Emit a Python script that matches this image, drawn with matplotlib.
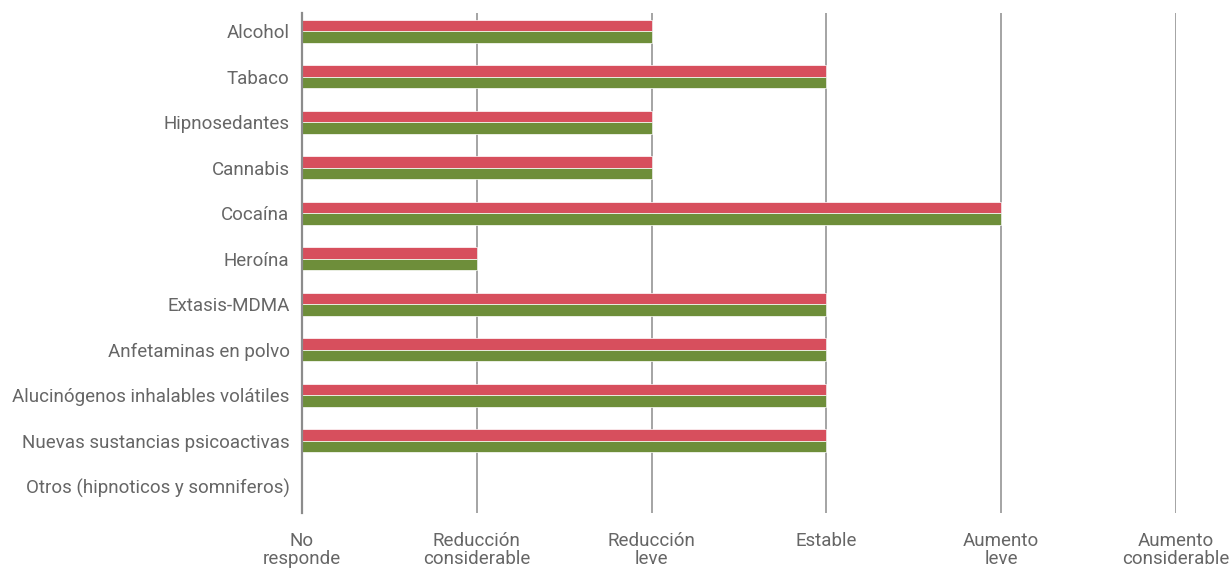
import numpy as np
import matplotlib.pyplot as plt

categories = ["Alcohol", "Tabaco", "Hipnosedantes", "Cannabis", "Cocaína", "Heroína",
              "Extasis-MDMA", "Anfetaminas en polvo",
              "Alucinógenos inhalables volátiles", "Nuevas sustancias psicoactivas",
              "Otros (hipnoticos y somniferos)"]
serie_roja = [2, 3, 2, 2, 4, 1, 3, 3, 3, 3, 0]
serie_verde = [2, 3, 2, 2, 4, 1, 3, 3, 3, 3, 0]
x_labels = ["No\nresponde", "Reducción\nconsiderable", "Reducción\nleve",
            "Estable", "Aumento\nleve", "Aumento\nconsiderable"]

plt.rcParams.update({"font.family": ["Roboto", "DejaVu Sans"]})
TXT = "#666666"
RED, GREEN = "#d74f5d", "#6e8e3a"
GRID = "#8c8c8c"

fig = plt.figure(figsize=(12.29, 5.69), dpi=100)
ax = fig.add_axes([302 / 1229, 1 - 513 / 569, (1176 - 302) / 1229, 500 / 569])

y = np.arange(len(categories))
h = 0.25
ax.barh(y - h / 2, serie_roja, height=h, color=RED, edgecolor="white", lw=0.5, zorder=3)
ax.barh(y + h / 2, serie_verde, height=h, color=GREEN, edgecolor="white", lw=0.5, zorder=3)

ax.set_xlim(0, 5)
ax.set_ylim(10.59, -0.40)
ax.set_xticks(range(6))
ax.set_xticklabels(x_labels, fontsize=13.5, color=TXT, linespacing=0.95)
ax.set_yticks(y)
ax.set_yticklabels(categories, fontsize=13.5, color=TXT)
ax.tick_params(length=0, pad=9, axis="y")
ax.tick_params(length=0, pad=14, axis="x")
ax.grid(axis="x", color=GRID, lw=1.1, zorder=0)
for s in ["top", "right", "bottom"]:
    ax.spines[s].set_visible(False)
ax.spines["left"].set_color(GRID)
ax.spines["left"].set_linewidth(1.6)
ax.spines["left"].set_zorder(4)

fig.savefig("out.png", dpi=100)
